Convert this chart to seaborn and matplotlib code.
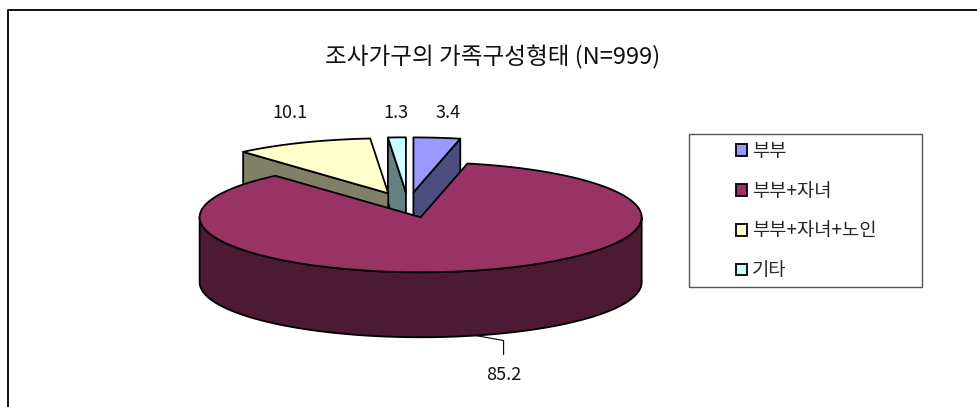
import numpy as np
import matplotlib
matplotlib.use("Agg")
import matplotlib.pyplot as plt
from matplotlib.patches import Polygon, Rectangle, Patch
from matplotlib.lines import Line2D
import seaborn as sns

# ---- data -------------------------------------------------------------
categories = ["부부", "부부+자녀", "부부+자녀+노인", "기타"]
shares = [3.4, 85.2, 10.1, 1.3]
top_colors = ["#9999FF", "#993366", "#FFFFCC", "#CCFFFF"]
title = "조사가구의 가족구성형태 (N=999)"

# ---- style ------------------------------------------------------------
sns.set_style("white")
plt.rcParams["font.family"] = ["Noto Sans CJK KR", "DejaVu Sans"]

W, H = 977, 407
fig = plt.figure(figsize=(W / 100, H / 100), dpi=100)

# pie axes: one data unit = pie radius (flattened ellipse for the 3-D tilt)
RX, RY = 221, 55          # pixels per unit, horizontal / vertical
CX, CY = 408, 205         # pie centre in pixels from the top-left corner
DEPTH = 65 / RY           # thickness of the disc
EXPLODE = 0.23            # radial offset of every slice
LABEL_R = 1.45            # radius for the outer value labels

ax = fig.add_axes([0, 0, 1, 1])
ax.set_xlim(-CX / RX, (W - CX) / RX)
ax.set_ylim(-(H - CY) / RY, CY / RY)
ax.axis("off")


def shade(hex_color, f=0.5):
    c = np.array(matplotlib.colors.to_rgb(hex_color))
    return tuple(c * f)


def pt(cx, cy, deg, r=1.0, drop=0.0):
    a = np.radians(deg)
    return (cx + r * np.sin(a), cy + r * np.cos(a) - drop)


def arc(cx, cy, a0, a1, drop=0.0, n=None):
    n = n or max(int(abs(a1 - a0) * 1.5), 4)
    return [pt(cx, cy, d, 1.0, drop) for d in np.linspace(a0, a1, n)]


total = sum(shares)
bounds = np.concatenate([[0], np.cumsum(shares)]) / total * 360

slices = []
for i, v in enumerate(shares):
    a0, a1 = bounds[i], bounds[i + 1]
    mid = (a0 + a1) / 2
    cx, cy = pt(0, 0, mid, EXPLODE)
    slices.append(dict(i=i, a0=a0, a1=a1, mid=mid, cx=cx, cy=cy))

EDGE = dict(edgecolor="black", linewidth=1.3, joinstyle="round")

# back slices first, front slices last
for s in sorted(slices, key=lambda d: -d["cy"]):
    i, a0, a1, cx, cy = s["i"], s["a0"], s["a1"], s["cx"], s["cy"]
    top_c, side_c = top_colors[i], shade(top_colors[i])
    # radial walls that face the viewer
    if np.sin(np.radians(a0)) < -1e-9:
        p = [(cx, cy), pt(cx, cy, a0), pt(cx, cy, a0, 1, DEPTH), (cx, cy - DEPTH)]
        ax.add_patch(Polygon(p, closed=True, facecolor=side_c, **EDGE))
    if np.sin(np.radians(a1)) > 1e-9:
        p = [(cx, cy), pt(cx, cy, a1), pt(cx, cy, a1, 1, DEPTH), (cx, cy - DEPTH)]
        ax.add_patch(Polygon(p, closed=True, facecolor=side_c, **EDGE))
    # curved outer wall on the front half
    lo, hi = max(a0, 90), min(a1, 270)
    if lo < hi:
        p = arc(cx, cy, lo, hi) + arc(cx, cy, hi, lo, DEPTH)
        ax.add_patch(Polygon(p, closed=True, facecolor=side_c, **EDGE))
    # top face
    p = [(cx, cy)] + arc(cx, cy, a0, a1)
    ax.add_patch(Polygon(p, closed=True, facecolor=top_c, **EDGE))

# value labels
label_shift = [(0, 0), None, (26, 7), (3, 0)]   # pixel nudges for the top labels
LBL = dict(fontsize=13, color="#111111", ha="center", va="center")
for s in slices:
    i = s["i"]
    txt = f"{shares[i]:.1f}"
    if label_shift[i] is not None:
        x, y = pt(s["cx"], s["cy"], s["mid"], LABEL_R)
        dx, dy = label_shift[i]
        ax.text(x + dx / RX, y + dy / RY, txt, **LBL)
    else:
        # label under the disc with a leader line
        ax_, ay_ = pt(s["cx"], s["cy"], s["mid"], 1.0, DEPTH)
        lx = ax_ + 28 / RX
        ly = ay_ - 39 / RY
        ax.plot([ax_, lx, lx], [ay_, ay_ - 5 / RY, ly + 20 / RY],
                color="black", lw=0.8)
        ax.text(lx, ly, txt, **LBL)

# title
fig.text(493 / W, 1 - 57 / H, title, ha="center", va="center",
         fontsize=17, color="#111111")

# legend
handles = [Patch(facecolor=c, edgecolor="black", linewidth=1.3) for c in top_colors]
fig.legend(handles, categories, loc="center",
           bbox_to_anchor=(806 / W, 1 - 211 / H), frameon=False,
           fontsize=13.5, handlelength=0.6, handleheight=0.6,
           handletextpad=0.25, labelspacing=1.0, borderpad=0)
fig.add_artist(Rectangle((689 / W, 1 - 287 / H), 233 / W, 153 / H,
                         transform=fig.transFigure, fill=False,
                         edgecolor="#555555", linewidth=1.0))

# chart-area border (left and top edges)
fig.add_artist(Line2D([8 / W, 8 / W, 1.0], [0.0, 1 - 10 / H, 1 - 10 / H],
                      transform=fig.transFigure, color="#111111", lw=1.4))

fig.savefig("out.png", dpi=100, facecolor="white")
